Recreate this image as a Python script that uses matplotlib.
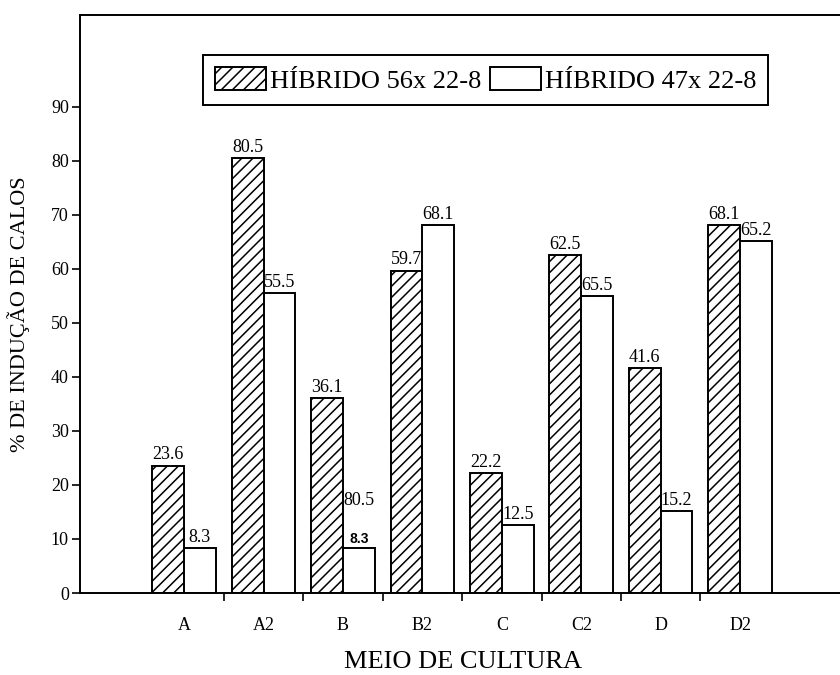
import numpy as np
import matplotlib
matplotlib.use('Agg')
import matplotlib.pyplot as plt
from matplotlib.patches import Patch

plt.rcParams['font.family'] = ['Liberation Serif', 'DejaVu Serif']
plt.rcParams['hatch.linewidth'] = 1.1

# dados
meios = ['A', 'A2', 'B', 'B2', 'C', 'C2', 'D', 'D2']
hib56 = [23.6, 80.5, 36.1, 59.7, 22.2, 62.5, 41.6, 68.1]
hib47 = [8.3, 55.5, 8.3, 68.1, 12.5, 55.0, 15.2, 65.2]
rot56 = ['23.6', '80.5', '36.1', '59.7', '22.2', '62.5', '41.6', '68.1']
rot47 = ['8.3', '55.5', '8.3', '68.1', '12.5', '65.5', '15.2', '65.2']
yticks = [0, 10, 20, 30, 40, 50, 60, 70, 80, 90]
legenda = ['HÍBRIDO 56x 22-8', 'HÍBRIDO 47x 22-8']

fig = plt.figure(figsize=(8.4, 6.75), dpi=100)
ax = fig.add_axes([80 / 840, 1 - 593 / 675, 765 / 840, 578 / 675])

x = np.arange(len(meios))
w = 0.4
ax.bar(x - w / 2, hib56, w, color='white', edgecolor='black', hatch='///', linewidth=1.4)
ax.bar(x + w / 2, hib47, w, color='white', edgecolor='black', linewidth=1.4)

for i in range(len(meios)):
    ax.text(x[i] - w / 2, hib56[i] + 0.4, rot56[i], ha='center', va='bottom', fontsize=13)
    if i == 2:
        ax.text(x[i] + w / 2, hib47[i] + 0.4, rot47[i], ha='center', va='bottom',
                fontsize=10, fontweight='bold', family=['Liberation Sans'])
        ax.text(x[i] + w / 2, 15.6, '80.5', ha='center', va='bottom', fontsize=13)
    else:
        ax.text(x[i] + w / 2, hib47[i] + 0.4, rot47[i], ha='center', va='bottom', fontsize=13)

ax.set_xlim(-1.31, 8.32)
ax.set_ylim(0, 107)
ax.set_yticks(yticks)
ax.set_xticks(x)
ax.set_xticklabels(meios)
ax.set_xticks(x[:-1] + 0.5, minor=True)
ax.tick_params(axis='y', direction='out', length=6, width=1.2, labelsize=13, pad=2)
ax.tick_params(axis='x', which='major', length=0, labelsize=13, pad=17)
ax.tick_params(axis='x', which='minor', direction='out', length=6, width=1.2)
for s in ax.spines.values():
    s.set_linewidth(1.4)

ax.set_ylabel('% DE INDUÇÃO DE CALOS', fontsize=16)
ax.yaxis.set_label_coords(-0.065, 0.483)
ax.set_xlabel('MEIO DE CULTURA', fontsize=19)
ax.xaxis.set_label_coords(0.5, -0.1)

handles = [Patch(facecolor='white', edgecolor='black', hatch='///', linewidth=1.4),
           Patch(facecolor='white', edgecolor='black', linewidth=1.4)]
leg = ax.legend(handles, legenda, loc='upper left', ncol=2, fontsize=19,
                bbox_to_anchor=(203 / 840, 1 - 55 / 675), bbox_transform=fig.transFigure,
                borderaxespad=0, fancybox=False, framealpha=1, edgecolor='black',
                handlelength=1.95, handleheight=1.0, handletextpad=0.15,
                columnspacing=0.3, borderpad=0.45)
leg.get_frame().set_linewidth(1.4)

fig.savefig('out.png', dpi=100)
